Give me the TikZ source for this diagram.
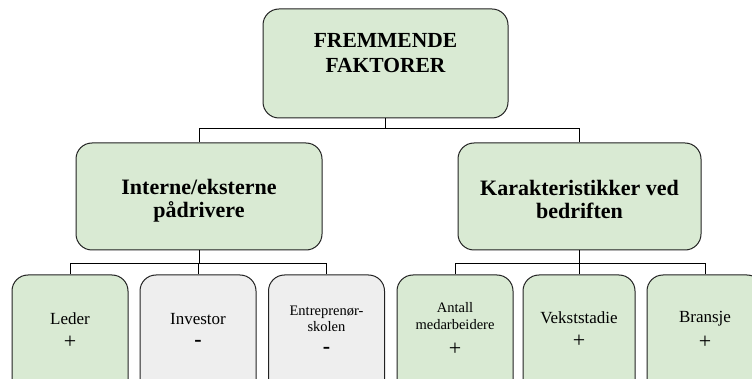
\documentclass[tikz,border=0pt]{standalone}
\usepackage{fontspec}
\setmainfont{Liberation Serif}
\definecolor{boxgreen}{HTML}{D9EAD3}
\definecolor{boxgrey}{HTML}{EEEEEE}
\definecolor{edge}{HTML}{222222}
\begin{document}
\begin{tikzpicture}[x=1pt,y=-1pt,
  box/.style={draw=edge,line width=1pt,rounded corners=16pt,inner sep=0pt},
  greenbox/.style={box,fill=boxgreen},
  greybox/.style={box,fill=boxgrey},
  leafbox/.style={minimum width=116pt,minimum height=126pt},
  link/.style={draw=black,line width=0.9pt},
  lbl/.style={align=center,inner sep=0pt,text=black},
  head/.style={lbl,font=\fontsize{21.5}{25}\selectfont\bfseries},
  sub/.style={lbl,font=\fontsize{22}{23}\selectfont\bfseries},
  leaf/.style={lbl,font=\fontsize{17}{18}\selectfont},
  small/.style={lbl,font=\fontsize{14.5}{16.5}\selectfont},
  sign/.style={lbl,font=\fontsize{22}{22}\selectfont},
  dash sign/.style={lbl,font=\fontsize{22}{22}\selectfont\bfseries}]
\useasboundingbox (0,0) rectangle (752,379);
\clip (0,0) rectangle (752,379);

% top level
\node[greenbox,minimum width=245pt,minimum height=109pt] (top) at (385.5,63.5) {};
\node[head] (topt) at (385.5,53.5) {FREMMENDE\\FAKTORER};

% second level
\node[greenbox,minimum width=246pt,minimum height=107pt] (drv) at (199,196.5) {};
\node[sub] (drvt) at (199,201) {Interne/eksterne\\pådrivere};
\node[greenbox,minimum width=243pt,minimum height=107pt] (kar) at (579.5,196.5) {};
\node[sub] (kart) at (579.5,199.5) {Karakteristikker ved\\bedriften};

% leaves
\node[greenbox,leafbox] (led) at (70,338) {};
\node[greybox,leafbox]  (inv) at (198,338) {};
\node[greybox,leafbox]  (ent) at (326.5,338) {};
\node[greenbox,leafbox] (ant) at (455,338) {};
\node[greenbox,leafbox,minimum width=112pt] (vek) at (579,338) {};
\node[greenbox,leafbox] (bra) at (705,338) {};

\node[leaf] (ledt) at (70,319) {Leder};
\node[sign] (leds) at (70,342) {+};
\node[leaf] (invt) at (198,319) {Investor};
\node[dash sign] (invs) at (198,343) {-};
\node[small] (entt) at (326.5,319) {Entreprenør-\\skolen};
\node[dash sign] (ents) at (326.5,350) {-};
\node[small] (antt) at (455,316) {Antall\\medarbeidere};
\node[sign] (ants) at (455,349) {+};
\node[leaf] (vekt) at (579,318) {Vekststadie};
\node[sign] (veks) at (579,341) {+};
\node[leaf] (brat) at (705,319) {Bransje};
\node[sign] (bras) at (705,342) {+};

% connectors
\draw[link] (top.south) -- ++(0,10) -| (drv.north);
\draw[link] (top.south) -- ++(0,10) -| (kar.north);
\foreach \c in {led,inv,ent}
  \draw[link] (drv.south) -- ++(0,13) -| (\c.north);
\foreach \c in {ant,vek,bra}
  \draw[link] (kar.south) -- ++(0,13) -| (\c.north);
\end{tikzpicture}
\end{document}
